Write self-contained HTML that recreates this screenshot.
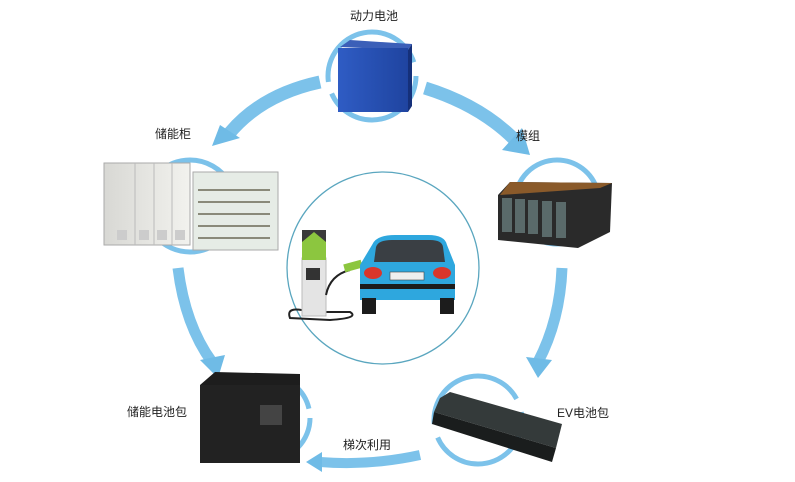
<!DOCTYPE html>
<html><head><meta charset="utf-8"><style>
body{margin:0;background:#fff;width:795px;height:477px;overflow:hidden}
text{font-family:"Liberation Sans","Noto Sans CJK SC",sans-serif;font-size:12px;fill:#222}
</style></head><body>
<svg width="795" height="477" viewBox="0 0 795 477">
<defs>
<linearGradient id="bat" x1="0" x2="1"><stop offset="0" stop-color="#2f5cc4"/><stop offset="1" stop-color="#1f44a0"/></linearGradient>
<linearGradient id="cab" x1="0" x2="1"><stop offset="0" stop-color="#d8d8d4"/><stop offset="1" stop-color="#f2f2ee"/></linearGradient>
</defs>
<g fill="none" stroke="#7cc2ea" stroke-linecap="butt">
<circle cx="372" cy="76" r="44" stroke-width="5" stroke-dasharray="120 12 130 14"/>
<circle cx="190" cy="206" r="46" stroke-width="5" stroke-dasharray="110 14 140 20"/>
<circle cx="557" cy="202" r="42" stroke-width="5" stroke-dasharray="120 12 120 12"/>
<circle cx="268" cy="418" r="42" stroke-width="5" stroke-dasharray="120 14 120 12"/>
<circle cx="478" cy="420" r="44" stroke-width="5" stroke-dasharray="120 14 120 14"/>
<path d="M425 88 Q480 105 515 140" stroke-width="13"/>
<path d="M320 82 Q260 95 228 135" stroke-width="13"/>
<path d="M562 268 Q560 320 538 362" stroke-width="11"/>
<path d="M178 268 Q185 325 212 362" stroke-width="11"/>
<path d="M420 455 Q370 466 320 462" stroke-width="10"/>
</g>
<g fill="#6fbbe6">
<polygon points="502,150 530,155 522,128"/>
<polygon points="212,146 220,125 240,138"/>
<polygon points="526,357 538,378 552,360"/>
<polygon points="200,360 218,378 225,355"/>
<polygon points="322,452 306,462 322,472"/>
</g>
<circle cx="383" cy="268" r="96" fill="none" stroke="#5aa6bf" stroke-width="1.3"/>
<path d="M290 318 Q285 305 310 312 L350 312 Q360 318 330 320 Z" fill="none" stroke="#222" stroke-width="2"/>
<rect x="302" y="258" width="24" height="58" fill="#e4e4e4" stroke="#bbb"/>
<rect x="302" y="230" width="24" height="30" fill="#8cc63f"/>
<polygon points="302,242 314,232 326,242 326,230 302,230" fill="#3a3a3a"/>
<rect x="306" y="268" width="14" height="12" fill="#333"/>
<path d="M326 295 Q330 275 350 270" fill="none" stroke="#222" stroke-width="2"/>
<rect x="344" y="262" width="18" height="8" fill="#8cc63f" transform="rotate(-15 353 266)"/>
<path d="M372 245 Q376 235 395 235 L428 235 Q445 235 447 245 L455 265 L455 300 L360 300 L360 265 Z" fill="#2ea7de"/>
<path d="M376 247 Q378 240 392 240 L430 240 Q442 240 443 247 L445 262 L374 262 Z" fill="#3a3f44"/>
<rect x="390" y="272" width="34" height="8" fill="#eee" stroke="#444" stroke-width=".6"/>
<ellipse cx="373" cy="273" rx="9" ry="6" fill="#d9362b"/>
<ellipse cx="442" cy="273" rx="9" ry="6" fill="#d9362b"/>
<rect x="360" y="284" width="95" height="5" fill="#1c1c1c"/>
<rect x="362" y="298" width="14" height="16" fill="#1c1c1c"/>
<rect x="440" y="298" width="14" height="16" fill="#1c1c1c"/>
<polygon points="340,47 350,40 412,44 408,50" fill="#3b5fb8"/>
<rect x="338" y="48" width="70" height="64" fill="url(#bat)"/>
<polygon points="408,50 412,44 412,106 408,112" fill="#15307a"/>
<rect x="104" y="163" width="86" height="82" fill="url(#cab)" stroke="#aaa"/>
<g stroke="#bbb"><line x1="135" y1="163" x2="135" y2="245"/><line x1="154" y1="163" x2="154" y2="245"/><line x1="172" y1="163" x2="172" y2="245"/></g>
<g fill="#ccc"><rect x="117" y="230" width="10" height="10"/><rect x="139" y="230" width="10" height="10"/><rect x="157" y="230" width="10" height="10"/><rect x="175" y="230" width="10" height="10"/></g>
<rect x="193" y="172" width="85" height="78" fill="#e6ece6" stroke="#aaa"/>
<g stroke="#8a8a7a" stroke-width="2"><line x1="198" y1="190" x2="270" y2="190"/><line x1="198" y1="202" x2="270" y2="202"/><line x1="198" y1="214" x2="270" y2="214"/><line x1="198" y1="226" x2="270" y2="226"/><line x1="198" y1="238" x2="270" y2="238"/></g>
<polygon points="498,195 510,182 612,183 610,232 578,248 498,240" fill="#2a2a2a"/>
<g fill="#5a6a6a"><rect x="502" y="198" width="10" height="34"/><rect x="515" y="199" width="10" height="34"/><rect x="528" y="200" width="10" height="34"/><rect x="542" y="201" width="10" height="36"/><rect x="556" y="202" width="10" height="36"/></g>
<polygon points="510,182 612,183 600,188 500,195" fill="#8a5a2a"/>
<polygon points="200,385 215,372 300,374 300,455 205,462" fill="#1d1d1d"/>
<rect x="200" y="385" width="100" height="78" fill="#222"/>
<rect x="260" y="405" width="22" height="20" fill="#444"/>
<polygon points="440,398 450,392 562,424 556,448 434,412" fill="#343a3a"/>
<polygon points="434,412 556,448 552,462 432,424" fill="#1a1d1d"/>
<text x="350" y="20">动力电池</text>
<text x="155" y="138">储能柜</text>
<text x="516" y="140">模组</text>
<text x="127" y="416">储能电池包</text>
<text x="557" y="417">EV电池包</text>
<text x="343" y="449">梯次利用</text>
</svg>
</body></html>
